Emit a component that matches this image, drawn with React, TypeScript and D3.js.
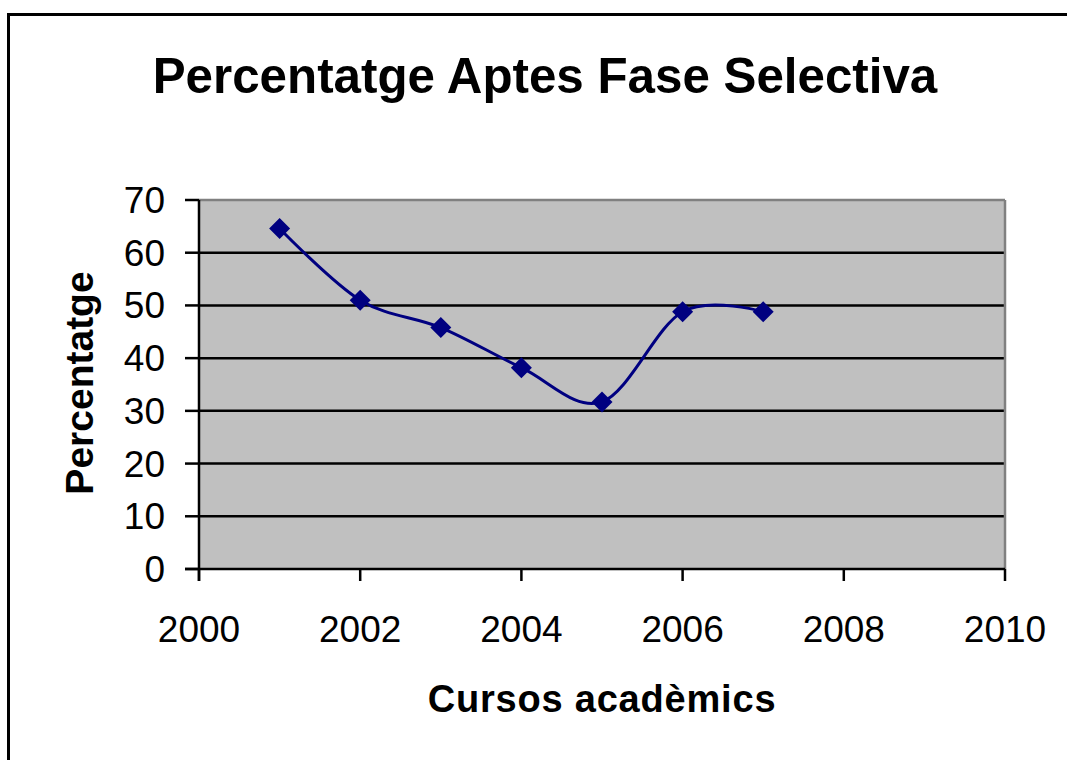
import React from "react";
import * as d3 from "d3";

const years = [2001, 2002, 2003, 2004, 2005, 2006, 2007];
const percentages = [64.6, 51.0, 45.8, 38.2, 31.7, 48.8, 48.8];
const yTicks = [0, 10, 20, 30, 40, 50, 60, 70];
const xTicks = [2000, 2002, 2004, 2006, 2008, 2010];
const title = "Percentatge Aptes Fase Selectiva";
const xTitle = "Cursos acadèmics";
const yTitle = "Percentatge";

const W = 1067;
const H = 760;
const font = "'Liberation Sans', Arial, sans-serif";

export default function App() {
  const left = 199, right = 1005, top = 200, bottom = 569;
  const x = d3.scaleLinear().domain([2000, 2010]).range([left, right]);
  const y = d3.scaleLinear().domain([0, 70]).range([bottom, top]);
  const pts: [number, number][] = years.map((yr, i) => [x(yr), y(percentages[i])]);
  const line = d3.line().curve(d3.curveCardinal.tension(0))(pts) || "";
  const d = 10.5;
  return (
    <svg width={W} height={H} style={{ position: "absolute", left: 0, top: 0, background: "#fff" }}>
      <rect x={8.5} y={14.5} width={W + 20} height={H + 20} fill="#fff" stroke="#000" strokeWidth={3} />
      <text x={545} y={93} textAnchor="middle" fontFamily={font} fontWeight="bold" fontSize={49.3}>{title}</text>
      <rect x={left} y={top} width={right - left} height={bottom - top} fill="#C0C0C0" />
      {yTicks.filter(t => t !== 0 && t !== 70).map(t => (
        <line key={t} x1={left} x2={right} y1={y(t)} y2={y(t)} stroke="#000" strokeWidth={2.5} />
      ))}
      <line x1={left} x2={right} y1={top} y2={top} stroke="#808080" strokeWidth={2.5} />
      <line x1={right} x2={right} y1={top} y2={bottom} stroke="#808080" strokeWidth={2.5} />
      <line x1={left} x2={left} y1={top} y2={bottom + 12} stroke="#000" strokeWidth={2.5} />
      <line x1={left - 14} x2={right} y1={bottom} y2={bottom} stroke="#000" strokeWidth={2.5} />
      {yTicks.map(t => (
        <g key={"y" + t}>
          <line x1={left - 14} x2={left} y1={y(t)} y2={y(t)} stroke="#000" strokeWidth={2.5} />
          <text x={165} y={y(t) + 13} textAnchor="end" fontFamily={font} fontSize={37}>{t}</text>
        </g>
      ))}
      {xTicks.map(t => (
        <g key={"x" + t}>
          <line x1={x(t)} x2={x(t)} y1={bottom} y2={bottom + 12} stroke="#000" strokeWidth={2.5} />
          <text x={x(t)} y={642} textAnchor="middle" fontFamily={font} fontSize={37}>{t}</text>
        </g>
      ))}
      <text x={602} y={712} textAnchor="middle" fontFamily={font} fontWeight="bold" fontSize={38} letterSpacing={0.8}>{xTitle}</text>
      <text transform={`translate(93,383) rotate(-90)`} textAnchor="middle" fontFamily={font} fontWeight="bold" fontSize={39}>{yTitle}</text>
      <path d={line} fill="none" stroke="#000080" strokeWidth={3} />
      {pts.map(([px, py], i) => (
        <path key={i} d={`M${px},${py - d}L${px + d},${py}L${px},${py + d}L${px - d},${py}Z`} fill="#000080" />
      ))}
    </svg>
  );
}
